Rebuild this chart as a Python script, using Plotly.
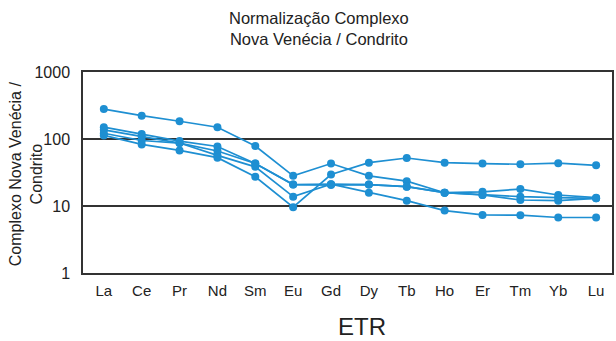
import plotly.graph_objects as go

# Elementos terras raras (ETR) na ordem do diagrama
elementos = ["La", "Ce", "Pr", "Nd", "Sm", "Eu", "Gd", "Dy", "Tb", "Ho", "Er", "Tm", "Yb", "Lu"]

# Valores normalizados ao condrito, uma amostra por lista
amostra_1 = [280, 223, 184, 150, 78.5, 28.2, 43, 28.2, 23.5, 15.8, 16.3, 17.9, 14.6, 13.3]
amostra_2 = [150, 119, 93, 77.4, 43, 20.9, 21.2, 20.9, 19.4, 15.8, 14.6, 13.8, 13.3, 13.0]
amostra_3 = [137, 109, 87, 66.2, 43, 20.9, 20.5, 20.9, 19.4, 15.8, 14.6, 12.3, 12.0, 13.0]
amostra_4 = [122, 95, 87, 57, 38.4, 13.8, 21.2, 15.8, 12.0, 8.55, 7.36, 7.3, 6.73, 6.73]
amostra_5 = [113, 83, 67.6, 52.7, 27.3, 9.6, 29.5, 44.4, 52, 44.4, 43, 42, 43.5, 40.5]

amostras = [amostra_1, amostra_2, amostra_3, amostra_4, amostra_5]

y_ticks = [1, 10, 100, 1000]

COR = "#1e8fd2"
FONTE = "Liberation Sans, Arial, sans-serif"

fig = go.Figure()
posicoes = list(range(len(elementos)))
for valores in amostras:
    fig.add_trace(go.Scatter(
        x=posicoes, y=valores, mode="lines+markers",
        line=dict(color=COR, width=1.7),
        marker=dict(color=COR, size=8),
        showlegend=False, hoverinfo="skip",
    ))

fig.update_layout(
    width=616, height=341,
    margin=dict(l=83, r=2, t=72, b=68),
    paper_bgcolor="white", plot_bgcolor="white",
    font=dict(family=FONTE, color="#222"),
    xaxis=dict(
        range=[-0.55, 13.42],
        tickmode="array", tickvals=posicoes, ticktext=elementos,
        tickfont=dict(size=15, color="#222"),
        showgrid=False, zeroline=False,
        showline=True, mirror=True, linecolor="#333", linewidth=1.5,
        ticks="", ticklabelstandoff=3,
    ),
    yaxis=dict(
        type="log", range=[0, 3],
        tickmode="array", tickvals=y_ticks, ticktext=[str(v) for v in y_ticks],
        tickfont=dict(size=16, color="#222"),
        showgrid=True, gridcolor="#333", gridwidth=1.5,
        zeroline=False,
        showline=True, mirror=True, linecolor="#333", linewidth=1.5,
        ticks="", ticklabelstandoff=8,
    ),
    annotations=[
        dict(text="Normalização Complexo<br>Nova Venécia / Condrito",
             x=320, y=341 - 29, xref="paper", yref="paper", showarrow=False,
             font=dict(size=16.5, color="#222"), align="center"),
        dict(text="Complexo Nova Venécia /<br>Condrito",
             x=26, y=341 - 174, xref="paper", yref="paper", showarrow=False,
             textangle=-90, font=dict(size=16, color="#222"), align="center"),
        dict(text="ETR", x=363, y=341 - 326, xref="paper", yref="paper",
             showarrow=False, font=dict(size=24, color="#222")),
    ],
)

# Anotações posicionadas em pixels convertidos para coordenadas do papel
W, H = 616, 341
pw, ph = W - 83 - 2, H - 72 - 68
for a in fig.layout.annotations:
    a.x = (a.x - 83) / pw
    a.y = (a.y - 68) / ph
    a.xanchor = "center"
    a.yanchor = "middle"

fig.write_html("out.html")
